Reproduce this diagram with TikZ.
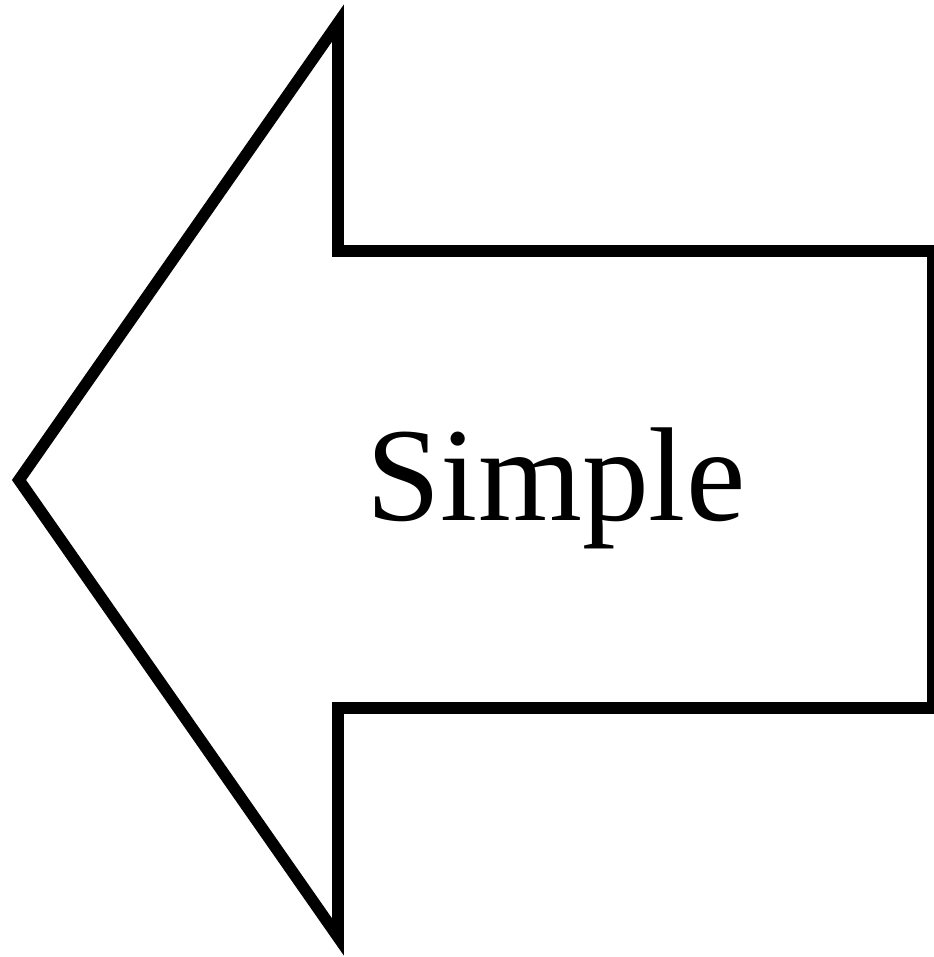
\documentclass[tikz,border=0pt]{standalone}
\usepackage{fontspec}
\setmainfont{Liberation Serif}
\usetikzlibrary{positioning}

\begin{document}
\begin{tikzpicture}[
  x=0.01cm, y=-0.01cm,
  arrowshape/.style={draw=black, line width=3.3pt, miter limit=10, fill=white},
  label/.style={font=\fontsize{38pt}{40pt}\selectfont, inner sep=0pt}
]
  %% Frame — fixes the page size
  \useasboundingbox (0,0) rectangle (934,957);

  %% Outline of the left arrow
  \draw[arrowshape] (19,480) -- (338,23) -- (338,251) -- (933,251)
    -- (933,708) -- (338,708) -- (338,937) -- cycle;

  %% Text in the shaft
  \node[label, anchor=base] (txt) at (556,520) {Simple};
\end{tikzpicture}
\end{document}
